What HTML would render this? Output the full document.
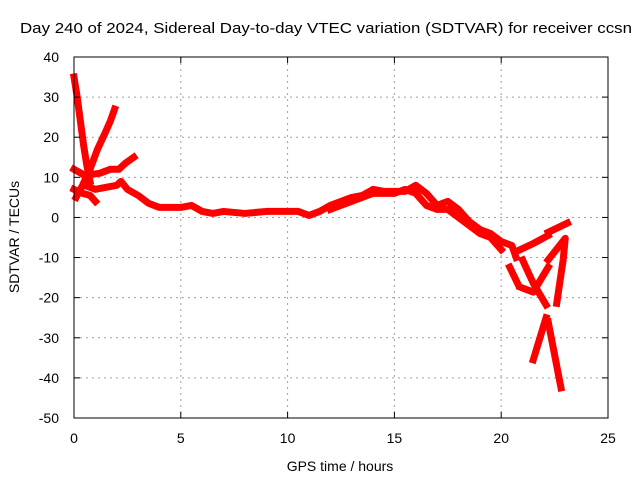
<!DOCTYPE html>
<html><head><meta charset="utf-8"><style>body{margin:0;background:#fff}svg{display:block;font-family:"Liberation Sans",sans-serif}</style></head>
<body>
<svg id="chart" width="640" height="480">
<text x="20" y="33" font-size="15" textLength="612" lengthAdjust="spacingAndGlyphs">Day 240 of 2024, Sidereal Day-to-day VTEC variation (SDTVAR) for receiver ccsn</text>
<g id="grid"></g><g id="series"></g><g id="axes"></g>
<text x="340" y="471" font-size="14" text-anchor="middle">GPS time / hours</text>
<text transform="translate(19,237) rotate(-90)" font-size="14" text-anchor="middle">SDTVAR / TECUs</text>
</svg>
<script>
const xTicks=[0,5,10,15,20,25];
const yTicks=[-50,-40,-30,-20,-10,0,10,20,30,40];
const trackA_t=[0,0.15,0.3,0.45,0.6,0.75];
const trackA_v=[35,30,24,18,13,9];
const trackB_t=[0.1,0.4,0.75,1.1,1.45,1.7,1.9];
const trackB_v=[5,8,12,17,21,24,27];
const trackC_t=[0,0.5,1.2,1.7,2.1,2.4,2.8];
const trackC_v=[12,10.5,11,12,12,13.5,15];
const trackD_t=[0,0.4,0.75,1];
const trackD_v=[7,6,5.5,4];
const main_t=[0.5,1,1.5,2,2.2,2.5,3,3.5,4,4.5,5,5.5,6,6.5,7,8,9,10,10.5,11,11.5,12,12.5,13,13.5,14,14.5,15,15.5,16,16.5,17,17.5,18,18.5,19,19.5,20,20.5,20.7];
const main_v=[8,7,7.5,8,9,7,5.5,3.5,2.5,2.5,2.5,3,1.5,1,1.5,1,1.5,1.5,1.5,0.5,1.5,3,4,5,5.5,7,6.5,6.5,6.5,8,6,3,4,2,-1,-3,-4,-6,-7,-10];
const main2_t=[12,13,14,15,15.5,16,16.5,17,17.5,18,18.5,19,19.5,20];
const main2_v=[2,4,6,6,7,6,3,2,2,0,-2,-4,-5,-8];
const tail1_t=[20.4,20.8];const tail1_v=[-12.4,-16.8];
const tail2_t=[20.9,21.5,22.2];const tail2_v=[-8,-6.5,-4.5];
const tail3_t=[21,21.5,22.1];const tail3_v=[-10.6,-16.4,-21.8];
const tail4_t=[20.9,21.5,22.2];const tail4_v=[-17.4,-18.6,-12.4];
const tail5_t=[22.2,23.1];const tail5_v=[-3.7,-1.4];
const tail6_t=[22.2,23,22.9,22.6];const tail6_v=[-10.6,-5.2,-10.6,-21.4];
const tail7_t=[21.5,22.1];const tail7_v=[-35.5,-25];
const tail8_t=[22.2,22.8];const tail8_v=[-26,-42.5];
const tracks=[[trackA_t,trackA_v],[trackB_t,trackB_v],[trackC_t,trackC_v],[trackD_t,trackD_v],[main_t,main_v],[main2_t,main2_v],[tail1_t,tail1_v],[tail2_t,tail2_v],[tail3_t,tail3_v],[tail4_t,tail4_v],[tail5_t,tail5_v],[tail6_t,tail6_v],[tail7_t,tail7_v],[tail8_t,tail8_v]];
const L=74,R=608,T=57,B=418;
const X=t=>L+(t-0)/(25-0)*(R-L);
const Y=v=>B-(v+50)/90*(B-T);
const NS="http://www.w3.org/2000/svg";
function mk(tag,attrs,parent){const e=document.createElementNS(NS,tag);for(const k in attrs)e.setAttribute(k,attrs[k]);parent.appendChild(e);return e;}
const grid=document.getElementById('grid'),axes=document.getElementById('axes'),series=document.getElementById('series');
xTicks.forEach(t=>{const x=X(t);
 if(t>0&&t<25){const g=mk('line',{x1:x,x2:x,y1:T,y2:B,stroke:'#a0a0a0','stroke-dasharray':'2,4'},grid);
 
 }
 mk('line',{x1:x,x2:x,y1:B,y2:B-6,stroke:'#000'},axes);mk('line',{x1:x,x2:x,y1:T,y2:T+6,stroke:'#000'},axes);
 const l=mk('text',{x:x,y:B+25,'font-size':14,'text-anchor':'middle'},axes);l.textContent=t;
 
 });
yTicks.forEach(v=>{const y=Y(v);
 if(v>-50&&v<40){const g=mk('line',{x1:L,x2:R,y1:y,y2:y,stroke:'#a0a0a0','stroke-dasharray':'2,4'},grid);
 
 }
 mk('line',{x1:L,x2:L+6,y1:y,y2:y,stroke:'#000'},axes);mk('line',{x1:R,x2:R-6,y1:y,y2:y,stroke:'#000'},axes);
 const l=mk('text',{x:L-15,y:y+5,'font-size':14,'text-anchor':'end'},axes);l.textContent=v;
 
 });
const frame=mk('rect',{x:L,y:T,width:R-L,height:B-T,fill:'none',stroke:'#000'},axes);


tracks.forEach(([ts,vs])=>{const p=mk('polyline',{points:ts.map((t,i)=>X(t)+','+Y(vs[i])).join(' '),fill:'none',stroke:'#ff0000','stroke-width':7,'stroke-linejoin':'round','stroke-linecap':'square'},series);
 
 });
</script>
</body></html>
